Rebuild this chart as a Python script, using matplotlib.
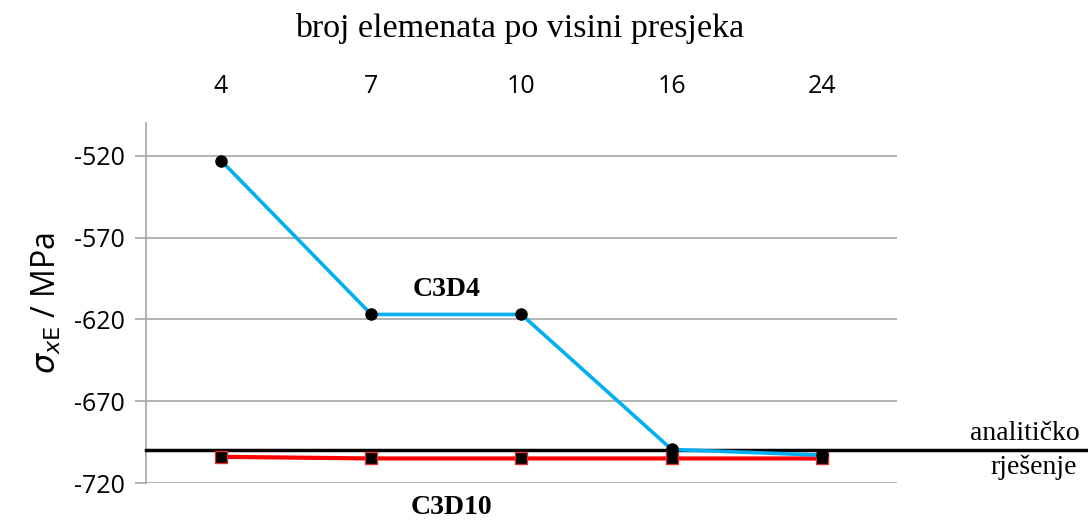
import numpy as np
import matplotlib.pyplot as plt

# broj elemenata po visini presjeka
n_elem = ['4', '7', '10', '16', '24']
c3d4 = [-523, -617, -617, -699.5, -703]
c3d10 = [-704, -705, -705, -705, -705]
analytic = -700
y_ticks = [-520, -570, -620, -670, -720]

fig = plt.figure(figsize=(10.88, 5.22), dpi=100)
ax = fig.add_axes([0.1342, 0.0747, 0.6902, 0.6897])

x = np.arange(len(n_elem))
ax.set_xlim(-0.5, len(n_elem) - 0.5)
ax.set_ylim(-720, -500)

for yt in y_ticks:
    ax.axhline(yt, color='#a6a6a6', lw=1.2, zorder=1)

ax.axhline(analytic, xmin=0, xmax=(1088 - 146) / (897 - 146), color='black',
           lw=2.5, clip_on=False, zorder=3)
ax.plot(x, c3d10, color='#ff0000', lw=3, marker='s', ms=8,
        mfc='black', mec='#e03030', mew=1, zorder=4)
ax.plot(x, c3d4, color='#00b0f0', lw=2.6, marker='o', ms=8,
        mfc='black', mec='black', zorder=5)

ax.set_yticks(y_ticks)
ax.set_yticklabels([str(v) for v in y_ticks], fontsize=18, family='Open Sans')
ax.tick_params(axis='y', length=8, color='#a6a6a6', width=1.2, pad=7)

ax.xaxis.tick_top()
ax.set_xticks(x)
ax.set_xticklabels(n_elem, fontsize=18, family='Open Sans')
ax.tick_params(axis='x', length=0, pad=17)

for s in ['top', 'right', 'bottom']:
    ax.spines[s].set_visible(False)
ax.spines['left'].set_color('#a6a6a6')
ax.spines['left'].set_linewidth(1.2)

ax.set_ylabel(r'$\sigma_{x\mathrm{E}}$ / MPa', fontsize=23, family='Open Sans',
              labelpad=8)

fig.text(0.478, 0.945, 'broj elemenata po visini presjeka', ha='center',
         va='center', fontsize=24.5, family='Liberation Serif')

ax.text(1.5, -602, 'C3D4', ha='center', va='center', fontsize=20,
        family='Liberation Serif', weight='bold')
fig.text(0.415, 0.028, 'C3D10', ha='center', va='center', fontsize=20,
         family='Liberation Serif', weight='bold')
fig.text(0.942, 0.17, 'analitičko', ha='center', va='center', fontsize=20,
         family='Liberation Serif')
fig.text(0.950, 0.105, 'rješenje', ha='center', va='center', fontsize=20,
         family='Liberation Serif')

fig.savefig('out.png', dpi=100)
